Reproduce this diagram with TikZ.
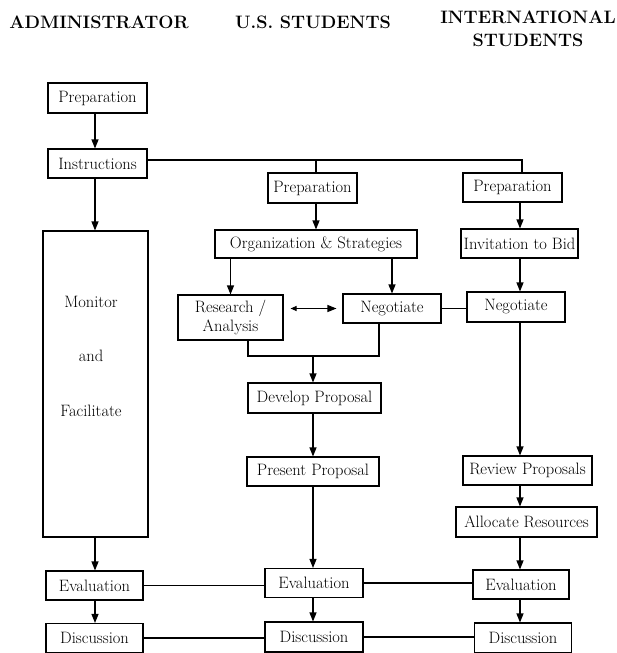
\documentclass[tikz,border=0pt]{standalone}
\usetikzlibrary{arrows.meta}
\tikzset{
	stage/.style={draw, line width=1.1pt, minimum height=29pt, inner sep=2pt, font=\fontsize{16.5}{19.5}\selectfont},
	plain/.style={font=\fontsize{16.5}{19.5}\selectfont, align=center},
	head/.style={font=\fontsize{18}{21.5}\selectfont\bfseries, align=center},
	flow/.style={line width=1.1pt, -{Triangle[length=9pt,width=7pt]}},
	link/.style={line width=1.1pt},
}
\begin{document}
\begin{tikzpicture}[x=1pt, y=-1pt]
		\useasboundingbox (0,0) rectangle (616,653);
		\node[head] (hadm) at (99,22) {ADMINISTRATOR};
		\node[head] (hus) at (313,22) {U.S. STUDENTS};
		\node[head] (hint) at (528,28.5) {INTERNATIONAL\\[1.5pt]STUDENTS};
		\coordinate (acol) at (95,0);
		\coordinate (ucol) at (313,0);
		\coordinate (icol) at (520,0);
		\coordinate (ubr) at (316,160);
		\coordinate (ibr) at (522,160);
		\coordinate (umerge) at (313,356);
		\node[stage, minimum width=99pt, minimum height=30pt] (aprep) at (97.5,98) {Preparation};
		\node[stage, minimum width=99pt] (ainst) at (97.5,163.5) {Instructions};
		\node[stage, minimum width=105pt, minimum height=306pt] (amon) at (95.5,384) {};
		\node[plain] (amontxt) at (91,356) {Monitor\\[35pt]and\\[35pt]Facilitate};
		\node[stage, minimum width=97pt] (aeval) at (94.5,585.5) {Evaluation};
		\node[stage, minimum width=97pt] (adisc) at (94.5,638) {Discussion};
		\node[stage, minimum width=89pt, minimum height=30pt] (uprep) at (312.5,188) {Preparation};
		\node[stage, minimum width=202pt, minimum height=28pt] (uorg) at (316,244) {Organization \& Strategies};
		\node[stage, minimum width=105pt, minimum height=45pt, align=center] (ures) at (230.5,317.5) {Research /\\Analysis};
		\node[stage, minimum width=98pt] (uneg) at (392,308.5) {Negotiate};
		\node[stage, minimum width=133pt, minimum height=30pt] (udev) at (314.5,398) {Develop Proposal};
		\node[stage, minimum width=132pt] (upres) at (313,471.5) {Present Proposal};
		\node[stage, minimum width=98pt] (ueval) at (314,583) {Evaluation};
		\node[stage, minimum width=98pt, minimum height=30pt] (udisc) at (314,637) {Discussion};
		\node[stage, minimum width=99pt] (iprep) at (512.5,187.5) {Preparation};
		\node[stage, minimum width=117pt] (iinv) at (519.5,243.5) {Invitation to Bid};
		\node[stage, minimum width=98pt, minimum height=30pt] (ineg) at (516,307) {Negotiate};
		\node[stage, minimum width=129pt] (irev) at (527.5,470.5) {Review Proposals};
		\node[stage, minimum width=141pt, minimum height=30pt] (ialloc) at (526.5,522) {Allocate Resources};
		\node[stage, minimum width=96pt] (ieval) at (521,584.5) {Evaluation};
		\node[stage, minimum width=97pt, minimum height=30pt] (idisc) at (523,638) {Discussion};
		\draw[flow] (aprep.south -| acol) -- (ainst.north -| acol);
		\draw[flow] (ainst.south -| acol) -- (amon.north -| acol);
		\draw[flow] (amon.south -| acol) -- (aeval.north -| acol);
		\draw[flow] (aeval.south -| acol) -- (adisc.north -| acol);
		\draw[link] (ainst.east |- ibr) -- (ibr) -- (iprep.north -| ibr);
		\draw[link] (ubr) -- (uprep.north -| ubr);
		\draw[flow] (uprep.south -| ubr) -- (uorg.north -| ubr);
		\draw[flow] (uorg.south -| ures.north) -- (ures.north);
		\draw[flow] (uorg.south -| uneg.north) -- (uneg.north);
		\draw[link, {Triangle[length=6pt,width=5pt]}-{Triangle[length=9pt,width=7pt]}, shorten <=7pt, shorten >=6pt] (ures.east |- uneg.west) -- (uneg.west);
		\draw[link] (uneg.east) -- (uneg.east -| ineg.west);
		\draw[link] ([xshift=17.5pt]ures.south) |- (umerge) -| ([xshift=-13pt]uneg.south);
		\draw[flow] (umerge) -- (udev.north -| umerge);
		\draw[flow] (udev.south -| ucol) -- (upres.north -| ucol);
		\draw[flow] (upres.south -| ucol) -- (ueval.north -| ucol);
		\draw[flow] (ueval.south -| ucol) -- (udisc.north -| ucol);
		\draw[flow] (iprep.south -| icol) -- (iinv.north -| icol);
		\draw[flow] (iinv.south -| icol) -- (ineg.north -| icol);
		\draw[flow] (ineg.south -| icol) -- (irev.north -| icol);
		\draw[flow] (irev.south -| icol) -- (ialloc.north -| icol);
		\draw[flow] (ialloc.south -| icol) -- (ieval.north -| icol);
		\draw[flow] (ieval.south -| icol) -- (idisc.north -| icol);
		\draw[link] (aeval.east) -- (aeval.east -| ueval.west);
		\draw[link] (ueval.east) -- (ueval.east -| ieval.west);
		\draw[link] (adisc.east) -- (adisc.east -| udisc.west);
		\draw[link] (udisc.east) -- (udisc.east -| idisc.west);
	\end{tikzpicture}
\end{document}
